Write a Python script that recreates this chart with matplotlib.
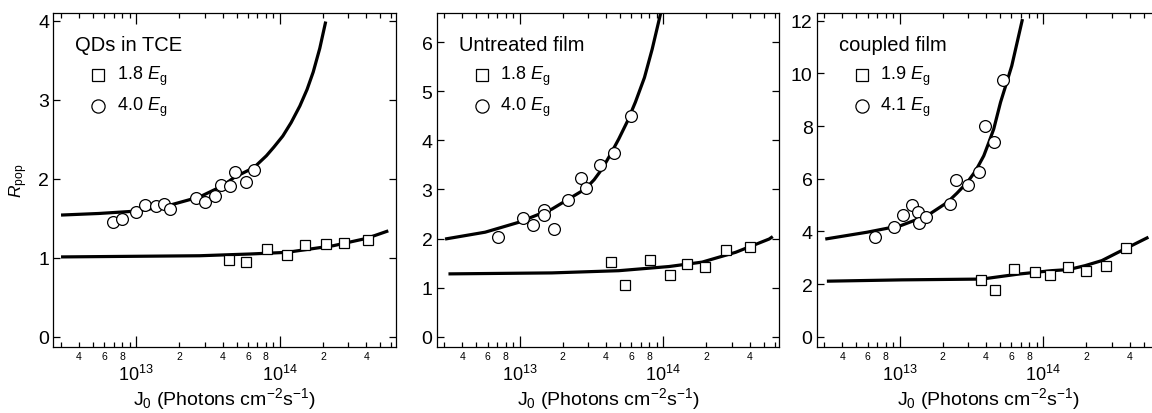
import math
import matplotlib
matplotlib.use('Agg')
import matplotlib.pyplot as plt
from matplotlib.ticker import FixedLocator, FuncFormatter

plt.rcParams['font.family'] = 'Liberation Sans'
plt.rcParams['mathtext.fontset'] = 'custom'
plt.rcParams['mathtext.rm'] = 'Liberation Sans'
plt.rcParams['mathtext.it'] = 'Liberation Sans:italic'

# ---- panel 1: QDs in TCE ----
circ_J_1 = [6.9e12, 8.0e12, 1.0e13, 1.16e13, 1.38e13, 1.57e13, 1.71e13, 2.62e13, 3.0e13,
            3.52e13, 3.92e13, 4.48e13, 4.85e13, 5.8e13, 6.6e13]
circ_R_1 = [1.45, 1.49, 1.58, 1.67, 1.66, 1.68, 1.62, 1.75, 1.71, 1.78, 1.92, 1.91, 2.08, 1.96, 2.11]
sq_J_1 = [4.4e13, 5.8e13, 8.2e13, 1.12e14, 1.5e14, 2.1e14, 2.8e14, 4.1e14]
sq_R_1 = [0.97, 0.95, 1.11, 1.04, 1.16, 1.17, 1.19, 1.23]
fit_hi_J_1 = [3.0e12, 5.5e12, 1.0e13, 1.6e13, 2.77e13, 4.0e13, 4.85e13, 6.6e13, 8.07e13, 9.1e13,
              1.05e14, 1.2e14, 1.38e14, 1.55e14, 1.71e14, 1.9e14, 2.09e14]
fit_hi_R_1 = [1.54, 1.56, 1.59, 1.65, 1.77, 1.91, 2.02, 2.14, 2.29, 2.40, 2.54, 2.71, 2.92, 3.13,
              3.35, 3.65, 3.99]
fit_lo_J_1 = [3.0e12, 2.77e13, 6.2e13, 1.12e14, 2.36e14, 4.03e14, 5.7e14]
fit_lo_R_1 = [1.01, 1.025, 1.047, 1.068, 1.152, 1.245, 1.34]

# ---- panel 2: untreated film ----
circ_J_2 = [7.06e12, 1.06e13, 1.25e13, 1.49e13, 1.47e13, 1.73e13, 2.18e13, 2.7e13, 2.92e13,
            3.65e13, 4.53e13, 6.0e13]
circ_R_2 = [2.04, 2.42, 2.28, 2.58, 2.48, 2.19, 2.79, 3.23, 3.02, 3.50, 3.74, 4.50]
sq_J_2 = [4.35e13, 5.4e13, 8.07e13, 1.11e14, 1.47e14, 1.95e14, 2.72e14, 4.03e14]
sq_R_2 = [1.52, 1.06, 1.57, 1.26, 1.48, 1.43, 1.77, 1.82]
fit_hi_J_2 = [3.03e12, 5.77e12, 9.84e12, 1.68e13, 2.87e13, 3.31e13, 3.76e13, 4.27e13, 4.91e13,
              5.62e13, 6.41e13, 7.41e13, 8.39e13, 9.59e13]
fit_hi_R_2 = [1.99, 2.13, 2.33, 2.60, 3.01, 3.20, 3.42, 3.70, 4.03, 4.38, 4.78, 5.28, 5.86, 6.58]
fit_lo_J_2 = [3.2e12, 1.68e13, 4.91e13, 1.1e14, 1.87e14, 3.2e14, 5.47e14, 5.8e14]
fit_lo_R_2 = [1.28, 1.30, 1.345, 1.43, 1.52, 1.72, 1.99, 2.04]

# ---- panel 3: coupled film ----
circ_J_3 = [6.7e12, 9.1e12, 1.06e13, 1.22e13, 1.34e13, 1.37e13, 1.54e13, 2.24e13, 2.47e13,
            2.99e13, 3.59e13, 3.93e13, 4.53e13, 5.24e13]
circ_R_3 = [3.78, 4.16, 4.62, 5.00, 4.75, 4.32, 4.53, 5.04, 5.96, 5.77, 6.24, 8.01, 7.40, 9.76]
sq_J_3 = [3.68e13, 4.63e13, 6.28e13, 8.8e13, 1.11e14, 1.5e14, 1.99e14, 2.73e14, 3.78e14]
sq_R_3 = [2.16, 1.79, 2.57, 2.45, 2.35, 2.66, 2.49, 2.68, 3.36]
fit_hi_J_3 = [3.04e12, 5.96e12, 1.02e13, 1.56e13, 2.15e13, 2.51e13, 2.96e13, 3.39e13, 3.86e13,
              4.17e13, 4.53e13, 5.05e13, 5.5e13, 6.05e13, 7.18e13]
fit_hi_R_3 = [3.71, 3.97, 4.22, 4.60, 5.10, 5.45, 5.86, 6.30, 6.87, 7.35, 7.89, 8.90, 9.55,
              10.29, 12.06]
fit_lo_J_3 = [3.12e12, 1.04e13, 3.74e13, 6.75e13, 1.15e14, 1.5e14, 1.96e14, 2.56e14, 3.34e14, 5.41e14]
fit_lo_R_3 = [2.11, 2.16, 2.19, 2.38, 2.51, 2.55, 2.70, 2.89, 3.21, 3.78]

titles = ['QDs in TCE', 'Untreated film', 'coupled film']
sq_labels = ['1.8', '1.8', '1.9']
circ_labels = ['4.0', '4.0', '4.1']
y_ticks = [[0, 1, 2, 3, 4], [0, 1, 2, 3, 4, 5, 6], [0, 2, 4, 6, 8, 10, 12]]
y_lims = [(-0.134, 4.094), (-0.216, 6.59), (-0.40, 12.28)]

x_major = [1e13, 1e14]
x_minor = [m * 10.0**e for e in (12, 13, 14) for m in range(2, 10)]
x_minor_labels = {4e12: '4', 6e12: '6', 8e12: '8', 2e13: '2', 4e13: '4', 6e13: '6',
                  8e13: '8', 2e14: '2', 4e14: '4'}

panels = [
    (circ_J_1, circ_R_1, sq_J_1, sq_R_1, fit_hi_J_1, fit_hi_R_1, fit_lo_J_1, fit_lo_R_1),
    (circ_J_2, circ_R_2, sq_J_2, sq_R_2, fit_hi_J_2, fit_hi_R_2, fit_lo_J_2, fit_lo_R_2),
    (circ_J_3, circ_R_3, sq_J_3, sq_R_3, fit_hi_J_3, fit_hi_R_3, fit_lo_J_3, fit_lo_R_3),
]


def minor_fmt(x, pos):
    for k, v in x_minor_labels.items():
        if abs(x - k) / k < 1e-6:
            return v
    return ''


def major_fmt(x, pos):
    return r'$\mathregular{10^{%d}}$' % round(math.log10(x))


fig = plt.figure(figsize=(11.52, 4.14), dpi=100)
lefts = [53.3 / 1152, 436.7 / 1152, 816.7 / 1152]
w = 342.7 / 1152
b = (414 - 348.3) / 414
h = 334 / 414

for i, (cJ, cR, sJ, sR, hJ, hR, lJ, lR) in enumerate(panels):
    ax = fig.add_axes([lefts[i], b, w, h])
    ax.plot(hJ, hR, color='black', lw=2.3, solid_capstyle='butt', solid_joinstyle='round')
    ax.plot(lJ, lR, color='black', lw=2.3, solid_capstyle='butt', solid_joinstyle='round')
    ax.plot(cJ, cR, 'o', ms=8.5, mfc='white', mec='black', mew=0.9)
    ax.plot(sJ, sR, 's', ms=7.5, mfc='white', mec='black', mew=0.9)

    ax.set_xscale('log')
    ax.set_xlim(2.65e12, 6.45e14)
    ax.set_ylim(*y_lims[i])
    ax.set_yticks(y_ticks[i])
    ax.xaxis.set_major_locator(FixedLocator(x_major))
    ax.xaxis.set_minor_locator(FixedLocator(x_minor))
    ax.xaxis.set_major_formatter(FuncFormatter(major_fmt))
    ax.xaxis.set_minor_formatter(FuncFormatter(minor_fmt))

    ax.tick_params(axis='both', which='both', direction='in', top=True, right=True, width=0.9)
    ax.tick_params(axis='x', which='major', length=8, pad=12, labelsize=13)
    ax.tick_params(axis='x', which='minor', length=3.5, pad=2.5, labelsize=7.5)
    ax.tick_params(axis='y', which='major', length=5, pad=3, labelsize=14)
    for sp in ax.spines.values():
        sp.set_linewidth(0.9)

    ax.set_xlabel(r'$\mathregular{J_0}$ (Photons cm$\mathregular{^{-2}}$s$\mathregular{^{-1}}$)',
                  fontsize=14, labelpad=1)
    if i == 0:
        ax.set_ylabel(r'$\mathit{R}_\mathregular{pop}$', fontsize=12.5, labelpad=6)

    # in-panel key
    ax.text(0.064, 0.908, titles[i], transform=ax.transAxes, fontsize=14.5,
            va='center', ha='left')
    ax.plot([0.131], [0.815], 's', ms=8.5, mfc='white', mec='black', mew=0.9,
            transform=ax.transAxes, clip_on=False)
    ax.plot([0.131], [0.722], 'o', ms=9.5, mfc='white', mec='black', mew=0.9,
            transform=ax.transAxes, clip_on=False)
    ax.text(0.185, 0.815, sq_labels[i] + r' $\mathit{E}_\mathregular{g}$', transform=ax.transAxes,
            fontsize=13, va='center', ha='left')
    ax.text(0.185, 0.722, circ_labels[i] + r' $\mathit{E}_\mathregular{g}$', transform=ax.transAxes,
            fontsize=13, va='center', ha='left')

fig.savefig('out.png', dpi=100)
